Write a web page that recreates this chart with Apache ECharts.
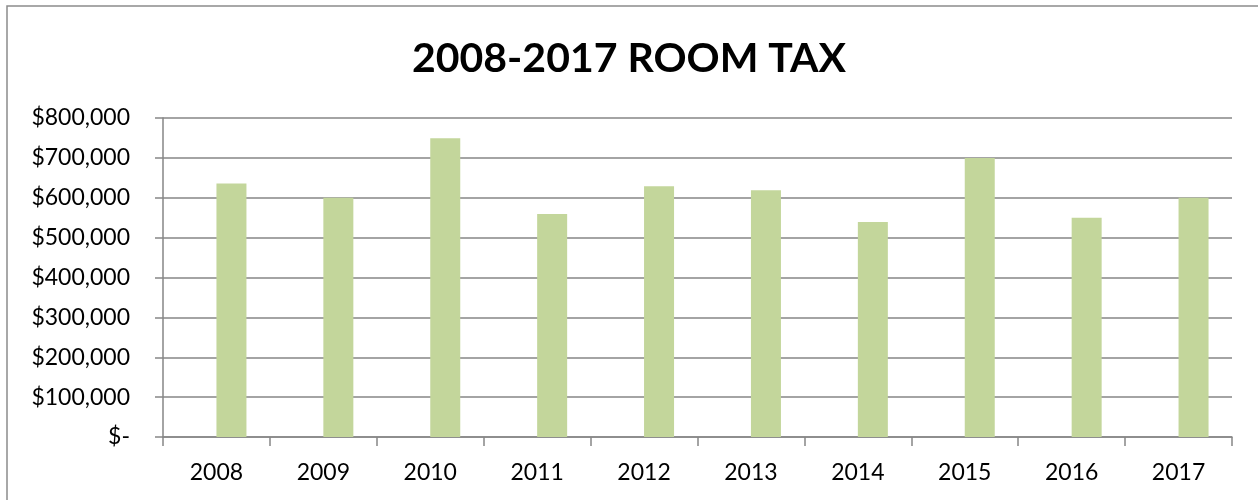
<!DOCTYPE html>
<html>
<head>
<meta charset="utf-8">
<script src="https://cdn.jsdelivr.net/npm/echarts@6/dist/echarts.min.js"></script>
<style>
  html, body { margin: 0; padding: 0; background: #ffffff; }
  #chart { width: 1258px; height: 500px; }
</style>
</head>
<body>
<div id="chart"></div>
<script>
// Yearly room tax collections
const years = ['2008', '2009', '2010', '2011', '2012', '2013', '2014', '2015', '2016', '2017'];
const roomTax = [636000, 600000, 749000, 559000, 629000, 619000, 539000, 700000, 550000, 600000];
// Companion series slot (left of each category centre) carries no values
const emptySlot = [null, null, null, null, null, null, null, null, null, null];

const FONT = 'Lato, "Open Sans", "Noto Sans", sans-serif';
const AXIS_GREY = '#868686';

function money(v) {
  if (v === 0) return '$-';
  return '$' + v.toLocaleString('en-US');
}

const chart = echarts.init(document.getElementById('chart'), null, { renderer: 'canvas' });

chart.setOption({
  animation: false,
  backgroundColor: '#ffffff',
  title: {
    text: '2008-2017 ROOM TAX',
    left: 'center',
    top: 33,
    textStyle: { fontFamily: FONT, fontSize: 41, fontWeight: 'bold', color: '#000000' }
  },
  graphic: [{
    type: 'rect',
    shape: { x: 7, y: 6, width: 1300, height: 600 },
    style: { fill: null, stroke: '#8c8c8c', lineWidth: 1.5 },
    silent: true,
    z: -1
  }],
  grid: { left: 163, right: 26, top: 118, bottom: 63 },
  xAxis: {
    type: 'category',
    data: years,
    boundaryGap: true,
    axisLine: { show: true, lineStyle: { color: AXIS_GREY, width: 1.5 } },
    axisTick: { show: true, length: 9, alignWithLabel: false, lineStyle: { color: AXIS_GREY, width: 1.5 } },
    axisLabel: { margin: 24, fontFamily: FONT, fontSize: 23, color: '#000000' },
    splitLine: { show: false }
  },
  yAxis: {
    type: 'value',
    min: 0,
    max: 800000,
    interval: 100000,
    axisLine: { show: true, lineStyle: { color: AXIS_GREY, width: 1.5 } },
    axisTick: { show: true, length: 8, lineStyle: { color: AXIS_GREY, width: 1.5 } },
    axisLabel: { margin: 33, fontFamily: FONT, fontSize: 23, color: '#000000', formatter: money },
    splitLine: { show: true, lineStyle: { color: AXIS_GREY, width: 1.5 } }
  },
  series: [
    {
      name: 'slot',
      type: 'bar',
      data: emptySlot,
      barWidth: 30,
      barGap: '0%',
      silent: true
    },
    {
      name: 'Room Tax',
      type: 'bar',
      data: roomTax,
      barWidth: 30,
      barGap: '0%',
      itemStyle: { color: '#c3d69b' }
    }
  ]
});
</script>
</body>
</html>
